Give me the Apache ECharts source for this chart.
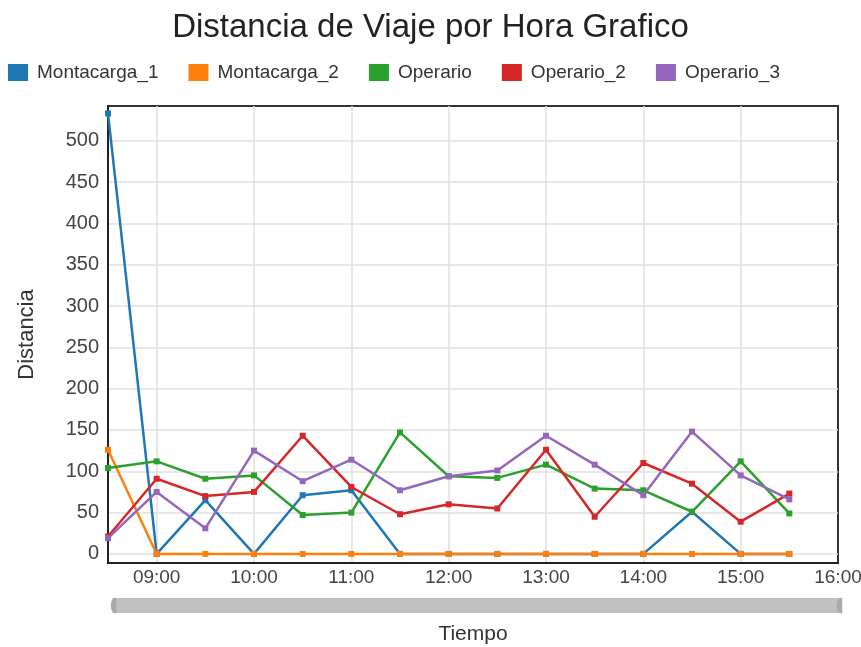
<!DOCTYPE html>
<html>
<head>
<meta charset="utf-8">
<script src="https://cdn.jsdelivr.net/npm/echarts@6/dist/echarts.min.js"></script>
<style>
  html, body { margin: 0; padding: 0; background: #fff; }
  #main { width: 861px; height: 647px; }
</style>
</head>
<body>
<div id="main"></div>
<script>
// horas cada media hora (08:30 .. 16:00)
var horas = ['08:30', '09:00', '09:30', '10:00', '10:30', '11:00', '11:30', '12:00',
  '12:30', '13:00', '13:30', '14:00', '14:30', '15:00', '15:30', '16:00'];

var montacarga1 = [533, 0, 65, 0, 71, 77, 0, 0, 0, 0, 0, 0, 51, 0, 0];
var montacarga2 = [126, 0, 0, 0, 0, 0, 0, 0, 0, 0, 0, 0, 0, 0, 0];
var operario = [104, 112, 91, 95, 47, 50, 147, 94, 92, 108, 79, 77, 51, 112, 49];
var operario2 = [21, 91, 70, 75, 143, 81, 48, 60, 55, 126, 45, 110, 85, 39, 73];
var operario3 = [19, 75, 31, 125, 88, 114, 77, 94, 101, 143, 108, 71, 148, 95, 66];

var colores = ['#1f77b4', '#ff7f0e', '#2ca02c', '#d62728', '#9467bd'];

var myChart = echarts.init(document.getElementById('main'));

function serie(nombre, datos) {
  return {
    name: nombre,
    type: 'line',
    data: datos,
    symbol: 'rect',
    symbolSize: 6,
    lineStyle: { width: 2.5 },
    emphasis: { disabled: true }
  };
}

// etiquetas solo en horas en punto
function enPunto(idx) {
  return idx % 2 === 1;
}
// lineas verticales (la de 16:00 la tapa el borde)
function lineaHora(idx) {
  return idx % 2 === 1 && idx < horas.length - 1;
}

var option = {
  animation: false,
  color: colores,
  textStyle: { fontFamily: 'Liberation Sans, Arial, sans-serif' },
  title: {
    text: 'Distancia de Viaje por Hora Grafico',
    left: 'center',
    top: 6,
    textStyle: { fontSize: 33, fontWeight: 'normal', color: '#222' }
  },
  legend: {
    left: 3,
    top: 58,
    itemWidth: 20,
    itemHeight: 17,
    itemGap: 30,
    icon: 'rect',
    textStyle: { fontSize: 19, color: '#333', padding: [0, 0, 0, 4] },
    data: ['Montacarga_1', 'Montacarga_2', 'Operario', 'Operario_2', 'Operario_3']
  },
  grid: {
    left: 108,
    right: 23,
    top: 106,
    bottom: 84,
    outerBoundsMode: 'none',
    show: true,
    borderColor: '#333',
    borderWidth: 2
  },
  xAxis: {
    type: 'category',
    boundaryGap: false,
    data: horas,
    name: 'Tiempo',
    nameLocation: 'middle',
    nameGap: 61,
    nameTextStyle: { fontSize: 21, color: '#333' },
    axisLine: { onZero: false, lineStyle: { color: '#222', width: 2 } },
    axisTick: { show: false },
    axisLabel: { interval: enPunto, fontSize: 19, color: '#444', margin: 5 },
    splitLine: { show: true, interval: lineaHora, lineStyle: { color: '#e0e0e0', width: 1.5 } }
  },
  yAxis: {
    type: 'value',
    min: -11,
    max: 542,
    splitNumber: 11,
    name: 'Distancia',
    nameLocation: 'middle',
    nameGap: 70,
    nameTextStyle: { fontSize: 22, color: '#333' },
    axisLine: { show: true, lineStyle: { color: '#222', width: 2 } },
    axisTick: { show: false },
    axisLabel: { fontSize: 20, color: '#444', margin: 9, showMinLabel: false, showMaxLabel: false },
    splitLine: { showMinLine: false, showMaxLine: false, lineStyle: { color: '#e0e0e0', width: 1.5 } }
  },
  dataZoom: [{
    type: 'slider',
    xAxisIndex: 0,
    start: 0,
    end: 100,
    left: 110,
    right: 23,
    top: 598,
    height: 15,
    showDetail: false,
    brushSelect: false,
    moveHandleSize: 0,
    borderColor: 'transparent',
    backgroundColor: 'transparent',
    fillerColor: '#c0c0c0',
    dataBackground: { lineStyle: { opacity: 0 }, areaStyle: { opacity: 0 } },
    selectedDataBackground: { lineStyle: { opacity: 0 }, areaStyle: { opacity: 0 } },
    handleIcon: 'path://M0,0 C-6,0 -6,15 0,15 Z',
    handleSize: '100%',
    handleStyle: { color: '#a8a8a8', borderColor: '#a8a8a8' }
  }],
  series: [
    serie('Montacarga_1', montacarga1),
    serie('Montacarga_2', montacarga2),
    serie('Operario', operario),
    serie('Operario_2', operario2),
    serie('Operario_3', operario3)
  ]
};

myChart.setOption(option);
</script>
</body>
</html>
